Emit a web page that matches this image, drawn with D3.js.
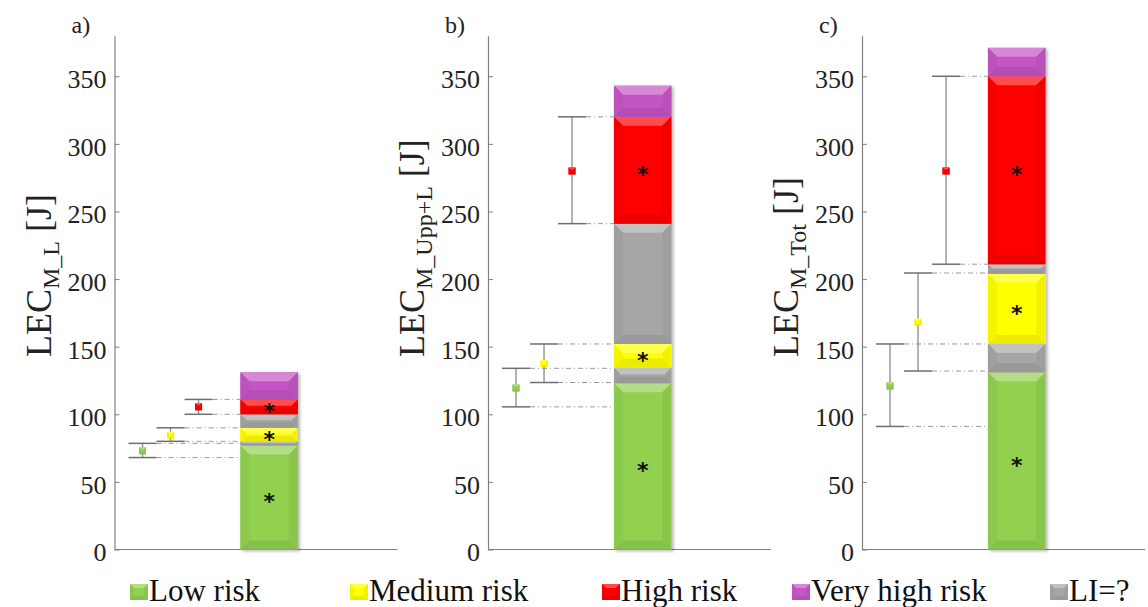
<!DOCTYPE html>
<html>
<head>
<meta charset="utf-8">
<script src="https://cdn.jsdelivr.net/npm/d3@7"></script>
<style>
  html, body { margin: 0; padding: 0; background: #fff; }
  svg { display: block; }
  svg text { font-family: "Liberation Serif", "Times New Roman", Times, serif; }
  svg text.star { font-family: "DejaVu Sans", sans-serif; font-weight: bold; }
</style>
</head>
<body>
<svg id="chart" width="1148" height="607"></svg>
<script>
// ---- data ----
const panelLabels = ["a)", "b)", "c)"];
const titleSubs = ["M_L", "M_Upp+L", "M_Tot"];
const yTicks = [0, 50, 100, 150, 200, 250, 300, 350];
const riskNames = ["Low risk", "Medium risk", "High risk", "Very high risk", "LI=?"];
const riskColors = ["#92d050", "#ffff00", "#ff0000", "#c455c4", "#a6a6a6"];

// stacked bar: risk index of each segment (bottom to top) and its upper bound [J]
const stackRisk = [0, 4, 1, 4, 2, 3];
const stackTopA = [77, 80, 90, 100, 111, 131];
const stackTopB = [123, 134.5, 152, 241, 320, 343];
const stackTopC = [131, 152, 204, 211, 350, 371];

// mean and confidence interval for low, medium, high risk groups [J]
const ciLowA = [68, 80, 100];
const meanA = [73, 84.5, 105.5];
const ciHighA = [78.5, 90, 111];
const ciLowB = [105.5, 123.5, 241];
const meanB = [119.5, 137.5, 280];
const ciHighB = [134, 152, 320];
const ciLowC = [91, 132, 211];
const meanC = [121, 168, 280];
const ciHighC = [152, 204.5, 350];

// segments marked with an asterisk
const starredRisk = [0, 1, 2];

const panels = [
  { label: panelLabels[0], sub: titleSubs[0], tops: stackTopA, lo: ciLowA, mean: meanA, hi: ciHighA },
  { label: panelLabels[1], sub: titleSubs[1], tops: stackTopB, lo: ciLowB, mean: meanB, hi: ciHighB },
  { label: panelLabels[2], sub: titleSubs[2], tops: stackTopC, lo: ciLowC, mean: meanC, hi: ciHighC }
];

// ---- layout ----
const svg = d3.select("#chart");
const axisXs = [114.5, 488, 862];
const axisLen = 283;
const y = d3.scaleLinear().domain([0, 380]).range([549.5, 35.7]);
const x = d3.scaleLinear().domain([0, 1]).range([0, axisLen]); // position within a panel
const barX0 = 0.445, barX1 = 0.648;
const errX = [0.099, 0.198, 0.297];
const capHalf = 14;

const defs = svg.append("defs");
const shadow = defs.append("filter").attr("id", "shadow")
  .attr("x", "-20%").attr("y", "-20%").attr("width", "140%").attr("height", "140%");
shadow.append("feDropShadow").attr("dx", 2).attr("dy", 1.5)
  .attr("stdDeviation", 1.6).attr("flood-color", "#000").attr("flood-opacity", 0.28);

function lighten(c, t) { return d3.interpolateRgb(c, "#ffffff")(t); }
function darken(c, t) { return d3.interpolateRgb(c, "#000000")(t); }

// beveled rectangle, like an embossed office shape
function bevelRect(g, x0, y0, x1, y1, color, depth) {
  const h = y1 - y0, w = x1 - x0;
  const d = Math.min(depth, h * 0.42, w * 0.42);
  const grp = g.append("g");
  grp.append("rect").attr("x", x0).attr("y", y0).attr("width", w).attr("height", h).attr("fill", color);
  const poly = (pts, fill) => grp.append("polygon")
    .attr("points", pts.map(p => p.join(",")).join(" "))
    .attr("fill", fill);
  poly([[x0, y0], [x1, y0], [x1 - d, y0 + d], [x0 + d, y0 + d]], lighten(color, 0.3));
  poly([[x0, y1], [x1, y1], [x1 - d, y1 - d], [x0 + d, y1 - d]], darken(color, 0.08));
  poly([[x0, y0], [x0 + d, y0 + d], [x0 + d, y1 - d], [x0, y1]], darken(color, 0.04));
  poly([[x1, y0], [x1 - d, y0 + d], [x1 - d, y1 - d], [x1, y1]], darken(color, 0.05));
  return grp;
}

panels.forEach((p, i) => {
  const ax = axisXs[i];
  const g = svg.append("g").attr("transform", `translate(${ax},0)`);

  // y axis
  const yAxis = d3.axisLeft(y).tickValues(yTicks).tickSizeInner(-5).tickSizeOuter(0).tickPadding(8);
  const ag = g.append("g").call(yAxis).attr("font-family", null);
  ag.select(".domain").attr("stroke", "#808080").attr("stroke-width", 1.2);
  ag.selectAll(".tick line").attr("stroke", "#808080");
  ag.selectAll(".tick text").style("font-size", "26px").attr("fill", "#222").attr("dy", "0.36em").attr("y", 2);

  // x axis baseline
  g.append("line").attr("x1", 0).attr("x2", x(1)).attr("y1", y(0)).attr("y2", y(0))
    .attr("stroke", "#808080").attr("stroke-width", 1.2);

  // panel label
  g.append("text").attr("x", -43).attr("y", 33).style("font-size", "24px").attr("fill", "#222").text(p.label);

  // axis title
  const t = svg.append("text")
    .attr("transform", `translate(${ax - 64},357) rotate(-90)`)
    .style("font-size", "36px").attr("fill", "#222");
  t.append("tspan").text("LEC");
  t.append("tspan").style("font-size", "24px").attr("dy", 8).text(p.sub);
  t.append("tspan").attr("dy", -8).text("\u00a0[J]");

  // dash-dot guides from each interval bound to the bar
  const guides = [];
  p.lo.forEach((v, k) => guides.push({ v, k }));
  p.hi.forEach((v, k) => guides.push({ v, k }));
  g.selectAll(".guide").data(guides).join("line")
    .attr("x1", d => x(errX[d.k]) + capHalf).attr("x2", x(barX0))
    .attr("y1", d => y(d.v)).attr("y2", d => y(d.v))
    .attr("stroke", "#9a9a9a").attr("stroke-width", 1)
    .attr("stroke-dasharray", "5,3,1,3");

  // error bars
  const eb = g.selectAll(".err").data(p.mean.map((m, k) => ({ k, m, lo: p.lo[k], hi: p.hi[k] })))
    .join("g");
  eb.append("line").attr("x1", d => x(errX[d.k])).attr("x2", d => x(errX[d.k]))
    .attr("y1", d => y(d.lo)).attr("y2", d => y(d.hi))
    .attr("stroke", "#8a8a8a").attr("stroke-width", 1.3);
  eb.append("line").attr("x1", d => x(errX[d.k]) - capHalf).attr("x2", d => x(errX[d.k]) + capHalf)
    .attr("y1", d => y(d.hi)).attr("y2", d => y(d.hi))
    .attr("stroke", "#6e6e6e").attr("stroke-width", 1.5);
  eb.append("line").attr("x1", d => x(errX[d.k]) - capHalf).attr("x2", d => x(errX[d.k]) + capHalf)
    .attr("y1", d => y(d.lo)).attr("y2", d => y(d.lo))
    .attr("stroke", "#6e6e6e").attr("stroke-width", 1.5);
  eb.each(function (d) {
    bevelRect(d3.select(this), x(errX[d.k]) - 3.5, y(d.m) - 3.5, x(errX[d.k]) + 3.5, y(d.m) + 3.5, riskColors[d.k], 2);
  });

  // stacked beveled bar
  const bar = g.append("g").attr("filter", "url(#shadow)");
  let prev = 0;
  const segs = p.tops.map((top, s) => {
    const seg = { r: stackRisk[s], lo: prev, hi: top };
    prev = top;
    return seg;
  });
  segs.forEach(sg => {
    bevelRect(bar, x(barX0), y(sg.hi), x(barX1), y(sg.lo), riskColors[sg.r], 9);
  });
  g.selectAll(".star").data(segs.filter(sg => starredRisk.includes(sg.r))).join("text")
    .attr("class", "star")
    .attr("x", x((barX0 + barX1) / 2)).attr("y", sg => y((sg.lo + sg.hi) / 2) + 12)
    .attr("text-anchor", "middle").style("font-size", "22px").attr("fill", "#111").text("*");
});

// legend
const legendX = [130, 350, 602, 792, 1050];
const lg = svg.append("g");
riskNames.forEach((name, i) => {
  bevelRect(lg, legendX[i], 584, legendX[i] + 18, 600, riskColors[i], 4);
  lg.append("text").attr("x", legendX[i] + 19).attr("y", 601)
    .style("font-size", "31px").attr("fill", "#111").text(name);
});
</script>
</body>
</html>
